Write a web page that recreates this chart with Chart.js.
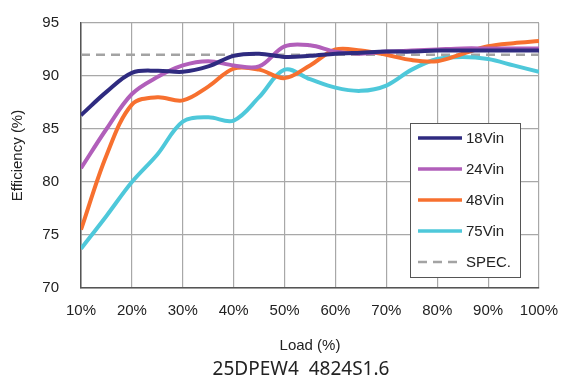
<!DOCTYPE html>
<html>
<head>
<meta charset="utf-8">
<script src="https://cdn.jsdelivr.net/npm/chart.js@4"></script>
<style>
  html, body { margin: 0; padding: 0; background: #fff; }
  #wrap { width: 563px; height: 381px; }
</style>
</head>
<body>
<div id="wrap"><canvas id="effChart" width="563" height="381"></canvas></div>
<script>
/* Data (5% steps) */
const loadPct = [10,15,20,25,30,35,40,45,50,55,60,65,70,75,80,85,90,95,100];
const vin18 = [86.3,88.5,90.3,90.5,90.4,90.9,91.9,92.1,91.8,91.9,92.1,92.2,92.3,92.3,92.4,92.4,92.4,92.4,92.4];
const vin24 = [81.3,85.0,88.3,89.9,91.0,91.4,91.0,90.9,92.8,92.9,92.3,92.1,92.3,92.4,92.5,92.6,92.6,92.6,92.6];
const vin48 = [75.5,82.5,87.3,88.0,87.7,89.0,90.7,90.6,89.8,91.0,92.5,92.4,92.0,91.5,91.4,92.1,92.8,93.1,93.3];
const vin75 = [73.7,76.8,80.0,82.6,85.7,86.1,85.8,88.0,90.6,89.7,88.9,88.6,89.1,90.6,91.6,91.8,91.6,91.0,90.4];
const specLevel = [92,92,92,92,92,92,92,92,92,92,92,92,92,92,92,92,92,92,92];
const seriesNames = ['18Vin','24Vin','48Vin','75Vin','SPEC.'];
const caption = '25DPEW4  4824S1.6';

/* colors */
const COLOR_NAVY = '#2f2b80';
const COLOR_PURPLE = '#b15fba';
const COLOR_ORANGE = '#f7702f';
const COLOR_CYAN = '#4ec8da';
const COLOR_SPEC = '#a3a3a3';

const FONT = '"Liberation Sans", Arial, sans-serif';

function pts(ys) { return loadPct.map((x, i) => ({ x: x, y: ys[i] })); }

function lineSet(label, ys, color) {
  return {
    label: label,
    data: pts(ys),
    borderColor: color,
    backgroundColor: color,
    borderWidth: 4,
    pointRadius: 0,
    tension: 0.35,
    fill: false
  };
}

/* legend box inside the plot + model caption under the chart */
const boxLegend = {
  id: 'boxLegend',
  afterDraw(chart) {
    const ctx = chart.ctx;
    const x0 = 410, y0 = 123, w = 110, h = 154;
    ctx.save();
    ctx.fillStyle = '#fff';
    ctx.fillRect(x0, y0, w, h);
    ctx.strokeStyle = '#555';
    ctx.lineWidth = 1;
    ctx.strokeRect(x0 + 0.5, y0 + 0.5, w, h);
    chart.data.datasets.forEach((ds, i) => {
      const y = y0 + 15 + i * 31;
      ctx.beginPath();
      ctx.strokeStyle = ds.borderColor;
      ctx.lineWidth = ds.borderDash ? 2.5 : 3.5;
      ctx.setLineDash(ds.borderDash || []);
      ctx.moveTo(x0 + 8, y);
      ctx.lineTo(x0 + 52, y);
      ctx.stroke();
      ctx.setLineDash([]);
      ctx.fillStyle = '#222';
      ctx.font = '15px ' + FONT;
      ctx.textBaseline = 'middle';
      ctx.textAlign = 'left';
      ctx.fillText(ds.label, x0 + 56, y + 1);
    });
    // caption
    ctx.fillStyle = '#222';
    ctx.font = '19px "Noto Sans", sans-serif';
    ctx.textAlign = 'center';
    ctx.textBaseline = 'middle';
    ctx.fillText(caption, 301, 370);
    ctx.restore();
  }
};

const ctx = document.getElementById('effChart').getContext('2d');

new Chart(ctx, {
  type: 'line',
  data: {
    datasets: [
      lineSet(seriesNames[0], vin18, COLOR_NAVY),
      lineSet(seriesNames[1], vin24, COLOR_PURPLE),
      lineSet(seriesNames[2], vin48, COLOR_ORANGE),
      lineSet(seriesNames[3], vin75, COLOR_CYAN),
      {
        label: seriesNames[4],
        data: pts(specLevel),
        borderColor: COLOR_SPEC,
        borderWidth: 2.5,
        borderDash: [9, 6],
        pointRadius: 0,
        fill: false
      }
    ]
  },
  options: {
    responsive: false,
    animation: false,
    layout: { padding: { left: 9, right: 24, top: 23, bottom: 0 } },
    plugins: {
      legend: { display: false },
      tooltip: { enabled: false }
    },
    scales: {
      x: {
        type: 'linear',
        min: 10,
        max: 100,
        afterFit(scale) { scale.height = 93; },
        ticks: {
          stepSize: 10,
          color: '#222',
          padding: 2,
          font: { family: FONT, size: 15 },
          callback: v => v + '%'
        },
        // transparent tick marks used only to push the labels off the axis
        grid: { color: '#a8a8a8', lineWidth: 1.2, drawTicks: true, tickLength: 12, tickColor: 'rgba(0,0,0,0)' },
        border: { color: '#555', width: 1.5 },
        title: {
          display: true,
          text: 'Load (%)',
          color: '#222',
          font: { family: FONT, size: 15 },
          padding: { top: 12, bottom: 26 }
        }
      },
      y: {
        min: 70,
        max: 95,
        afterFit(scale) { scale.width = 72; },
        ticks: {
          stepSize: 5,
          color: '#222',
          padding: 2,
          font: { family: FONT, size: 15 }
        },
        grid: { color: '#a8a8a8', lineWidth: 1.2, drawTicks: true, tickLength: 20, tickColor: 'rgba(0,0,0,0)' },
        border: { color: '#555', width: 1.5 },
        title: {
          display: true,
          text: 'Efficiency (%)',
          color: '#222',
          font: { family: FONT, size: 15 },
          padding: { top: 0, bottom: 0 }
        }
      }
    }
  },
  plugins: [boxLegend]
});
</script>
</body>
</html>
